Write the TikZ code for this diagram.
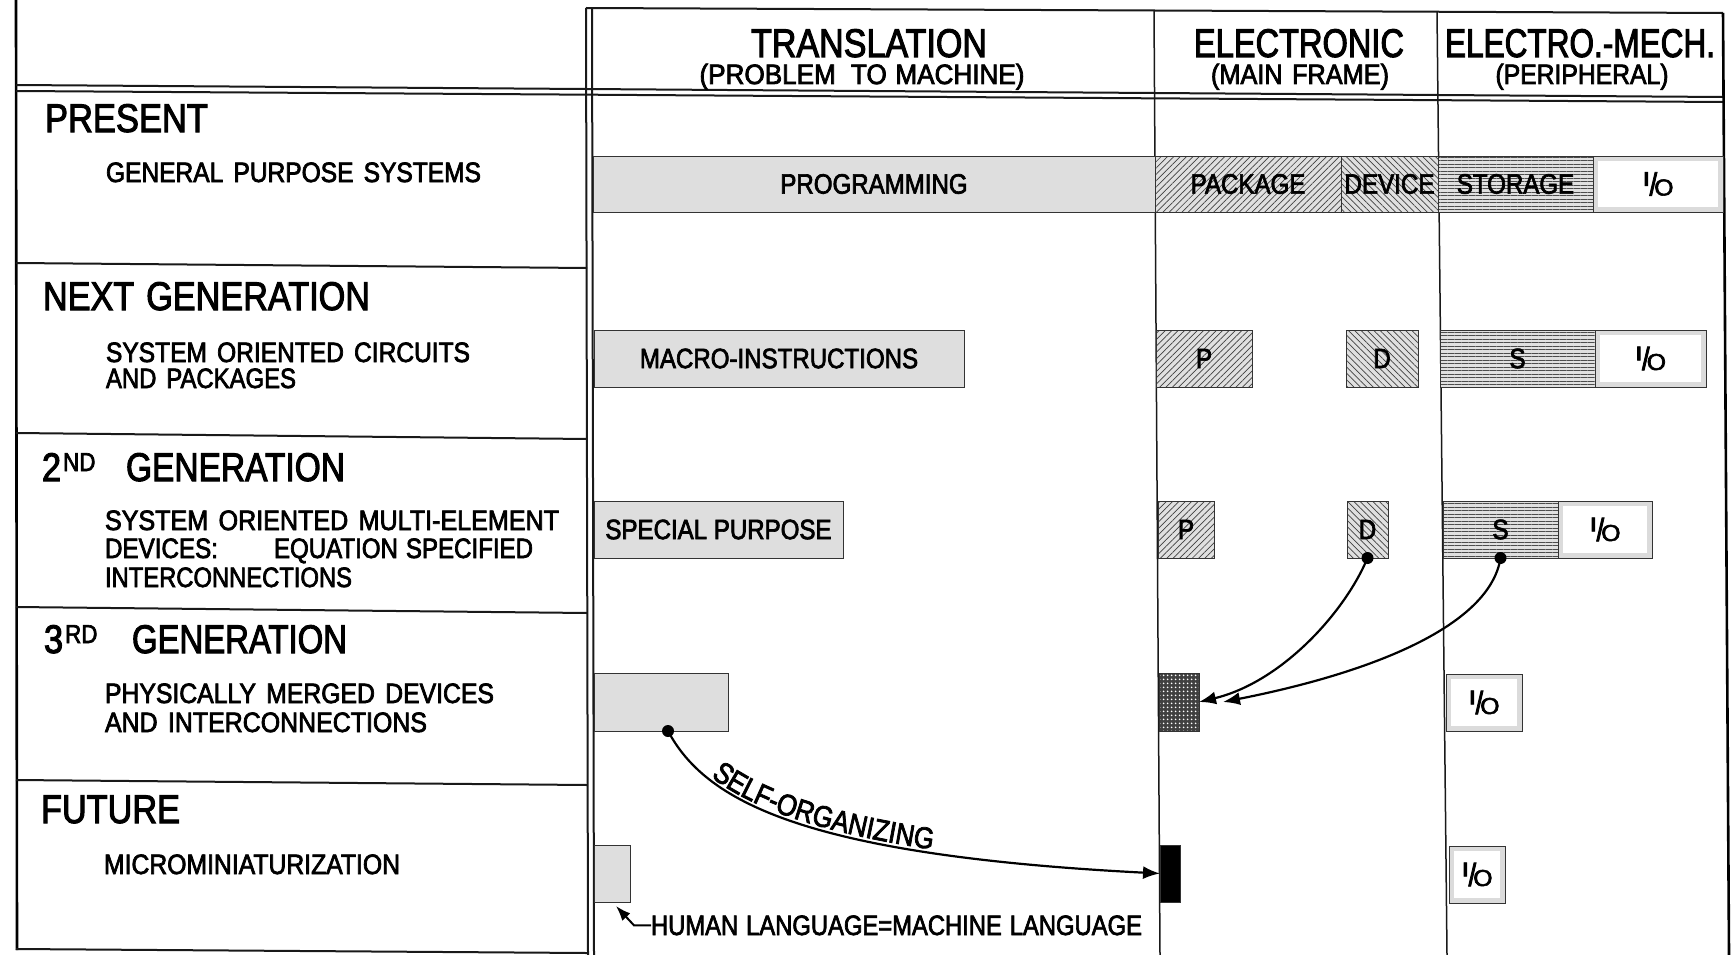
\documentclass[tikz,border=0pt]{standalone}
\usepackage{fontspec}
\usepackage{graphicx}
\usetikzlibrary{patterns.meta,arrows.meta,decorations.text}
\newfontfamily\lf[FakeStretch=0.86,FakeBold=2.5]{Liberation Sans}
\newcommand\fbig{\lf\fontsize{40}{42}\selectfont}
\newcommand\fmid{\lf\fontsize{28}{29}\selectfont}
\newcommand\fself{\lf\fontsize{30}{31}\selectfont}
\newcommand\fsup{\lf\fontsize{26}{27}\selectfont}
\newcommand\fio{\lf\fontsize{32}{33}\selectfont}
\newlength\fitw
\newcommand\fitto[2]{\settowidth\fitw{#2}\pgfmathsetmacro\fitr{#1/\fitw}\scalebox{\fitr}[1]{#2}}
\newcommand\IO{{\fio\raisebox{.3em}{\scalebox{1}[0.62]{I}}\kern-.02em/\kern-.09em\scalebox{0.9}[0.72]{O}}}
\newcommand\mybox[7][]{\node[#1, minimum width={(#4-#2)*1pt}, minimum height={(#5-#3)*1pt}] (#6) at ({(#2+#4)/2},{(#3+#5)/2}) {#7};}
\begin{document}
\begin{tikzpicture}[x=1pt,y=-1pt,
  frame/.style={line width=2pt, black!90},
  thin frame/.style={line width=1.5pt, black!90},
  lt/.style={anchor=base west, inner sep=0pt, outer sep=0pt, font=\fmid},
  big/.style={lt, font=\fbig},
  hd/.style={anchor=base, inner sep=0pt, font=\fbig},
  hs/.style={anchor=base, inner sep=0pt, font=\fmid},
  base/.style={draw=black!80, line width=0.9pt, inner sep=0pt, outer sep=0pt, font=\fmid},
  stip/.style={base, fill=black!13},
  hatchR/.style={base, preaction={fill=black!12}, pattern={Lines[angle=45,distance=4.5pt,line width=0.7pt]}, pattern color=black!75},
  hatchL/.style={base, preaction={fill=black!12}, pattern={Lines[angle=-45,distance=4.5pt,line width=0.7pt]}, pattern color=black!75},
  horiz/.style={base, preaction={fill=black!12}, pattern={Lines[angle=0,distance=3.5pt,line width=0.6pt]}, pattern color=black!70},
  dense/.style={base, preaction={fill=black!75}, pattern={Dots[distance=4pt,radius=1.1pt]}, pattern color=white},
  solid/.style={base, fill=black},
  iob/.style={base, fill=black!14, path picture={\fill[white] ([shift={(5pt,-5pt)}]path picture bounding box.north west) rectangle ([shift={(-5pt,5pt)}]path picture bounding box.south east);}},
  conn/.style={line width=2.2pt, -{Latex[length=17pt,width=13pt]}},
  dot/.style={fill=black}
]
\useasboundingbox (0,0) rectangle (1734,955);
\fill[white] (0,0) rectangle (1734,955);

% ---- frame lines
\draw[line width=2.6pt] (16,0) -- (17,950);
\draw[frame] (16,949) -- (587,953);
\draw[frame] (16,263) -- (587,268);
\draw[frame] (16,433) -- (587,439);
\draw[frame] (16,607) -- (587,613);
\draw[frame] (16,780) -- (587,785);
\draw[frame] (16,85) -- (1723,97);
\draw[frame] (16,91) -- (1723,102);
\draw[frame] (586,8) -- (1723,13);
\draw[frame] (586,8) -- (588,955);
\draw[frame] (592,8) -- (594,955);
\draw[line width=2.6pt] (1723,13) -- (1729,955);
\draw[thin frame] (1154,11) -- (1160,955);
\draw[thin frame] (1437,12) -- (1447,955);

% ---- header
\node[hd] (tr) at (869,57) {\fitto{236}{TRANSLATION}};
\node[hs] (trs) at (862,84) {\fitto{325}{(PROBLEM\hspace{14pt}TO\hspace{8pt}MACHINE)}};
\node[hd] (el) at (1299,57) {\fitto{210}{ELECTRONIC}};
\node[hs] (els) at (1300,84) {\fitto{178}{(MAIN\hspace{9pt}FRAME)}};
\node[hd] (em) at (1580,57) {\fitto{270}{ELECTRO.-MECH.}};
\node[hs] (ems) at (1582,84) {\fitto{173}{(PERIPHERAL)}};

% ---- left column
\node[big] (pr) at (45,132) {\fitto{163}{PRESENT}};
\node[lt] (pr1) at (106,182) {\fitto{375}{GENERAL\hspace{10pt}PURPOSE\hspace{10pt}SYSTEMS}};
\node[big] (ng) at (43,310) {\fitto{327}{NEXT\hspace{12pt}GENERATION}};
\node[lt] (ng1) at (106,362) {\fitto{364}{SYSTEM\hspace{10pt}ORIENTED\hspace{10pt}CIRCUITS}};
\node[lt] (ng2) at (106,388) {\fitto{190}{AND\hspace{10pt}PACKAGES}};
\node[big] (g2) at (42,481) {2\kern2pt\raisebox{10pt}{\fsup ND}};
\node[big] (g2b) at (126,481) {\fitto{219}{GENERATION}};
\node[lt] (g2l1) at (105,530) {\fitto{454}{SYSTEM\hspace{10pt}ORIENTED\hspace{10pt}MULTI-ELEMENT}};
\node[lt] (g2l2) at (105,558) {\fitto{113}{DEVICES:}};
\node[lt] (g2l3) at (274,558) {\fitto{259}{EQUATION\hspace{8pt}SPECIFIED}};
\node[lt] (g2l4) at (105,587) {\fitto{247}{INTERCONNECTIONS}};
\node[big] (g3) at (44,653) {3\kern2pt\raisebox{10pt}{\fsup RD}};
\node[big] (g3b) at (132,653) {\fitto{215}{GENERATION}};
\node[lt] (g3l1) at (105,703) {\fitto{389}{PHYSICALLY\hspace{10pt}MERGED\hspace{10pt}DEVICES}};
\node[lt] (g3l2) at (105,732) {\fitto{322}{AND\hspace{10pt}INTERCONNECTIONS}};
\node[big] (fu) at (41,823) {\fitto{139}{FUTURE}};
\node[lt] (fu1) at (104,874) {\fitto{296}{MICROMINIATURIZATION}};

% ---- PRESENT row
\mybox[stip]{593}{156}{1155}{212}{prog}{PROGRAMMING}
\mybox[hatchR]{1155}{156}{1341}{212}{pkg}{PACKAGE}
\mybox[hatchL]{1341}{156}{1438}{212}{dev}{\fitto{90}{DEVICE}}
\mybox[horiz]{1438}{156}{1593}{212}{sto}{STORAGE}
\mybox[iob]{1593}{156}{1723}{212}{io0}{\IO}

% ---- NEXT GENERATION row
\mybox[stip]{594}{330}{964}{387}{macro}{MACRO-INSTRUCTIONS}
\mybox[hatchR]{1156}{330}{1252}{387}{p1}{P}
\mybox[hatchL]{1346}{330}{1418}{387}{d1}{D}
\mybox[horiz]{1440}{330}{1595}{387}{s1}{S}
\mybox[iob]{1595}{330}{1706}{387}{io1}{\IO}

% ---- 2ND GENERATION row
\mybox[stip]{594}{501}{843}{558}{spec}{SPECIAL PURPOSE}
\mybox[hatchR]{1158}{501}{1214}{558}{p2}{P}
\mybox[hatchL]{1347}{501}{1388}{558}{d2}{D}
\mybox[horiz]{1443}{501}{1558}{558}{s2}{S}
\mybox[iob]{1558}{501}{1652}{558}{io2}{\IO}

% ---- 3RD GENERATION row
\mybox[stip]{594}{673}{728}{731}{t3}{}
\mybox[dense]{1159}{673}{1199}{731}{m3}{}
\mybox[iob]{1446}{674}{1522}{731}{io3}{\IO}

% ---- FUTURE row
\mybox[stip]{594}{845}{630}{902}{t4}{}
\mybox[solid]{1160}{845}{1180}{902}{f4}{}
\mybox[iob]{1449}{846}{1505}{903}{io4}{\IO}

% ---- connectors
\draw[conn] (d2.south) .. controls (1345,612) and (1282,682) .. (m3.east);
\fill[dot] (d2.south) circle[radius=6pt];
\draw[conn] (s2.south) .. controls (1490,625) and (1375,672) .. ([xshift=24pt]m3.east);
\fill[dot] (s2.south) circle[radius=6pt];
\draw[conn] ([xshift=7pt]t3.south) .. controls (705,800) and (800,855) .. (f4.west);
\fill[dot] ([xshift=7pt]t3.south) circle[radius=6pt];
\path[decorate, decoration={text along path, text={|\fself|SELF-ORGANIZING}, text align={left indent=64pt}, raise=3pt}]
  ([xshift=7pt]t3.south) .. controls (705,800) and (800,855) .. (f4.west);

\node[lt] (hl) at (651,935) {\fitto{491}{HUMAN\hspace{8pt}LANGUAGE=MACHINE\hspace{8pt}LANGUAGE}};
\draw[line width=2pt, -{Latex[length=15pt,width=11pt]}] (hl.west) -- ++(-17,0) -- ([shift={(-14pt,-4pt)}]t4.south east);
\end{tikzpicture}
\end{document}
